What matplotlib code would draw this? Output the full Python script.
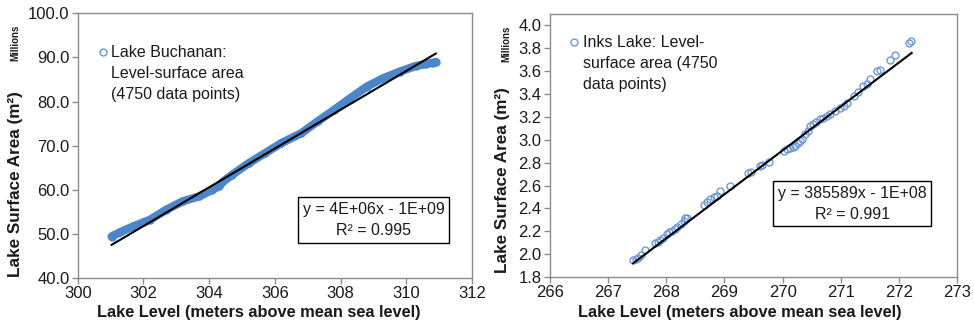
import numpy as np
import matplotlib
matplotlib.use("Agg")
import matplotlib.pyplot as plt
from matplotlib.lines import Line2D
from matplotlib.ticker import FormatStrFormatter

plt.rcParams['font.family'] = ['Liberation Sans', 'DejaVu Sans']

# ---- data ----
buch_level = [301.03, 301.3, 301.69, 302.0, 302.2, 302.7, 303.2, 303.7, 304.1, 304.3, 304.4,
              304.7, 305.2, 305.7, 306.2, 306.8, 307.3, 307.8, 308.3, 308.8, 309.3, 309.8,
              310.3, 310.6, 310.8, 310.9]
buch_area = [49.4, 50.4, 51.7, 52.6, 53.2, 55.5, 57.4, 58.5, 60.0, 60.8, 61.7,
             63.4, 66.0, 68.3, 70.6, 72.8, 75.5, 78.1, 80.8, 83.4, 85.3, 86.8,
             88.1, 88.5, 88.8, 89.0]
buch_trend_level = [301.03, 310.9]
buch_trend_area = [47.5, 90.9]

inks_level = [267.43, 267.48, 267.52, 267.57, 267.63, 267.81, 267.85, 267.9, 267.95, 268.01,
              268.05, 268.1, 268.15, 268.18, 268.25, 268.3, 268.32, 268.36, 268.64, 268.7,
              268.75, 268.82, 268.88, 268.93, 269.1, 269.41, 269.46, 269.61, 269.65, 269.76,
              270.02, 270.08, 270.13, 270.18, 270.22, 270.26, 270.3, 270.34, 270.39, 270.43,
              270.47, 270.52, 270.57, 270.65, 270.7, 270.76, 270.82, 270.9, 270.99, 271.05,
              271.1, 271.22, 271.3, 271.39, 271.45, 271.5, 271.62, 271.68, 271.85, 271.93,
              272.17, 272.21]
inks_area = [1.95, 1.96, 1.97, 1.99, 2.04, 2.10, 2.11, 2.12, 2.14, 2.18,
             2.19, 2.20, 2.22, 2.24, 2.26, 2.29, 2.32, 2.32, 2.43, 2.46,
             2.48, 2.50, 2.51, 2.55, 2.60, 2.71, 2.72, 2.77, 2.78, 2.81,
             2.90, 2.92, 2.93, 2.94, 2.95, 2.97, 2.99, 3.01, 3.05, 3.08,
             3.12, 3.14, 3.16, 3.18, 3.19, 3.21, 3.23, 3.25, 3.28, 3.30,
             3.32, 3.38, 3.42, 3.47, 3.49, 3.53, 3.60, 3.61, 3.70, 3.74,
             3.85, 3.86]
inks_trend_level = [267.43, 272.22]
inks_trend_area = [1.92, 3.76]

buch_xticks = [300, 302, 304, 306, 308, 310, 312]
buch_yticks = [40, 50, 60, 70, 80, 90, 100]
inks_xticks = [266, 267, 268, 269, 270, 271, 272, 273]
inks_yticks = [1.8, 2.0, 2.2, 2.4, 2.6, 2.8, 3.0, 3.2, 3.4, 3.6, 3.8, 4.0]

buch_label = "Lake Buchanan:\nLevel-surface area\n(4750 data points)"
inks_label = "Inks Lake: Level-\nsurface area (4750\ndata points)"
buch_eq = "y = 4E+06x - 1E+09\nR² = 0.995"
inks_eq = "y = 385589x - 1E+08\nR² = 0.991"

BLUE = '#4a86c8'
MK = '#6d9ad6'
GRAY = '#8c8c8c'
TXT = '#1a1a1a'

fig = plt.figure(figsize=(9.74, 3.27), dpi=100)
W, H = 974, 327
axL = fig.add_axes([0.0798, 0.150, 0.4048, 0.809])
axR = fig.add_axes([0.5647, 0.153, 0.4179, 0.804])

def style(ax):
    for s in ax.spines.values():
        s.set_color(GRAY)
        s.set_linewidth(1.0)
    ax.tick_params(direction='out', length=4, width=1, color=GRAY,
                   labelsize=12, labelcolor=TXT, pad=2)
    ax.yaxis.set_major_formatter(FormatStrFormatter('%.1f'))

def series_key(ax, anchor):
    h = Line2D([], [], ls='none', marker='o', ms=5, mfc='none', mec=MK, mew=1)
    ax.legend([h], [''], loc='center', bbox_to_anchor=anchor, frameon=False,
              handletextpad=0, handlelength=0.8, borderaxespad=0, borderpad=0)

# Left: Lake Buchanan
bx = np.array(buch_level); by = np.array(buch_area)
axL.plot(bx, by, color=BLUE, lw=6, solid_capstyle='round', zorder=2)
axL.plot(bx, by, ls='none', marker='o', ms=5, mfc='none', mec=BLUE, mew=1, zorder=2)
axL.plot(buch_trend_level, buch_trend_area, color='black', lw=1.5, zorder=3)
axL.set_xlim(300, 312); axL.set_ylim(40, 100)
axL.set_xticks(buch_xticks); axL.set_yticks(buch_yticks)
style(axL)
series_key(axL, (0.064, 0.850))
axL.text(0.0845, 0.882, buch_label, transform=axL.transAxes, ha='left', va='top',
         fontsize=11.5, linespacing=1.5, color=TXT)
axL.text(0.750, 0.219, buch_eq, transform=axL.transAxes, ha='center', va='center',
         multialignment='center', fontsize=11.5, linespacing=1.5, color=TXT,
         bbox=dict(boxstyle='square,pad=0.3', fc='white', ec='black', lw=1))

# Right: Inks Lake
ix = np.array(inks_level); iy = np.array(inks_area)
axR.plot(ix, iy, ls='none', marker='o', ms=5, mfc='none', mec=MK, mew=1, zorder=2)
axR.plot(inks_trend_level, inks_trend_area, color='black', lw=1.5, zorder=3)
axR.set_xlim(266, 273); axR.set_ylim(1.8, 4.1)
axR.set_xticks(inks_xticks); axR.set_yticks(inks_yticks)
style(axR)
series_key(axR, (0.059, 0.890))
axR.text(0.081, 0.922, inks_label, transform=axR.transAxes, ha='left', va='top',
         fontsize=11.5, linespacing=1.5, color=TXT)
axR.text(0.742, 0.279, inks_eq, transform=axR.transAxes, ha='center', va='center',
         multialignment='center', fontsize=11.5, linespacing=1.5, color=TXT,
         bbox=dict(boxstyle='square,pad=0.3', fc='white', ec='black', lw=1))

# Axis titles
ylab = "Lake Surface Area (m²)"
xlab = "Lake Level (meters above mean sea level)"
fig.text(16 / W, 1 - 184 / H, ylab, rotation=90, ha='center', va='center', fontsize=12.3, fontweight='bold', color=TXT)
fig.text(502 / W, 1 - 180 / H, ylab, rotation=90, ha='center', va='center', fontsize=12.3, fontweight='bold', color=TXT)
fig.text(15 / W, 1 - 43 / H, "Millions", rotation=90, ha='center', va='center', fontsize=7, fontweight='bold', color=TXT)
fig.text(506 / W, 1 - 44 / H, "Millions", rotation=90, ha='center', va='center', fontsize=7, fontweight='bold', color=TXT)
fig.text(259 / W, 1 - 313 / H, xlab, ha='center', va='center', fontsize=11.8, fontweight='bold', color=TXT)
fig.text(740 / W, 1 - 313 / H, xlab, ha='center', va='center', fontsize=11.8, fontweight='bold', color=TXT)

fig.savefig('out.png', dpi=100)
